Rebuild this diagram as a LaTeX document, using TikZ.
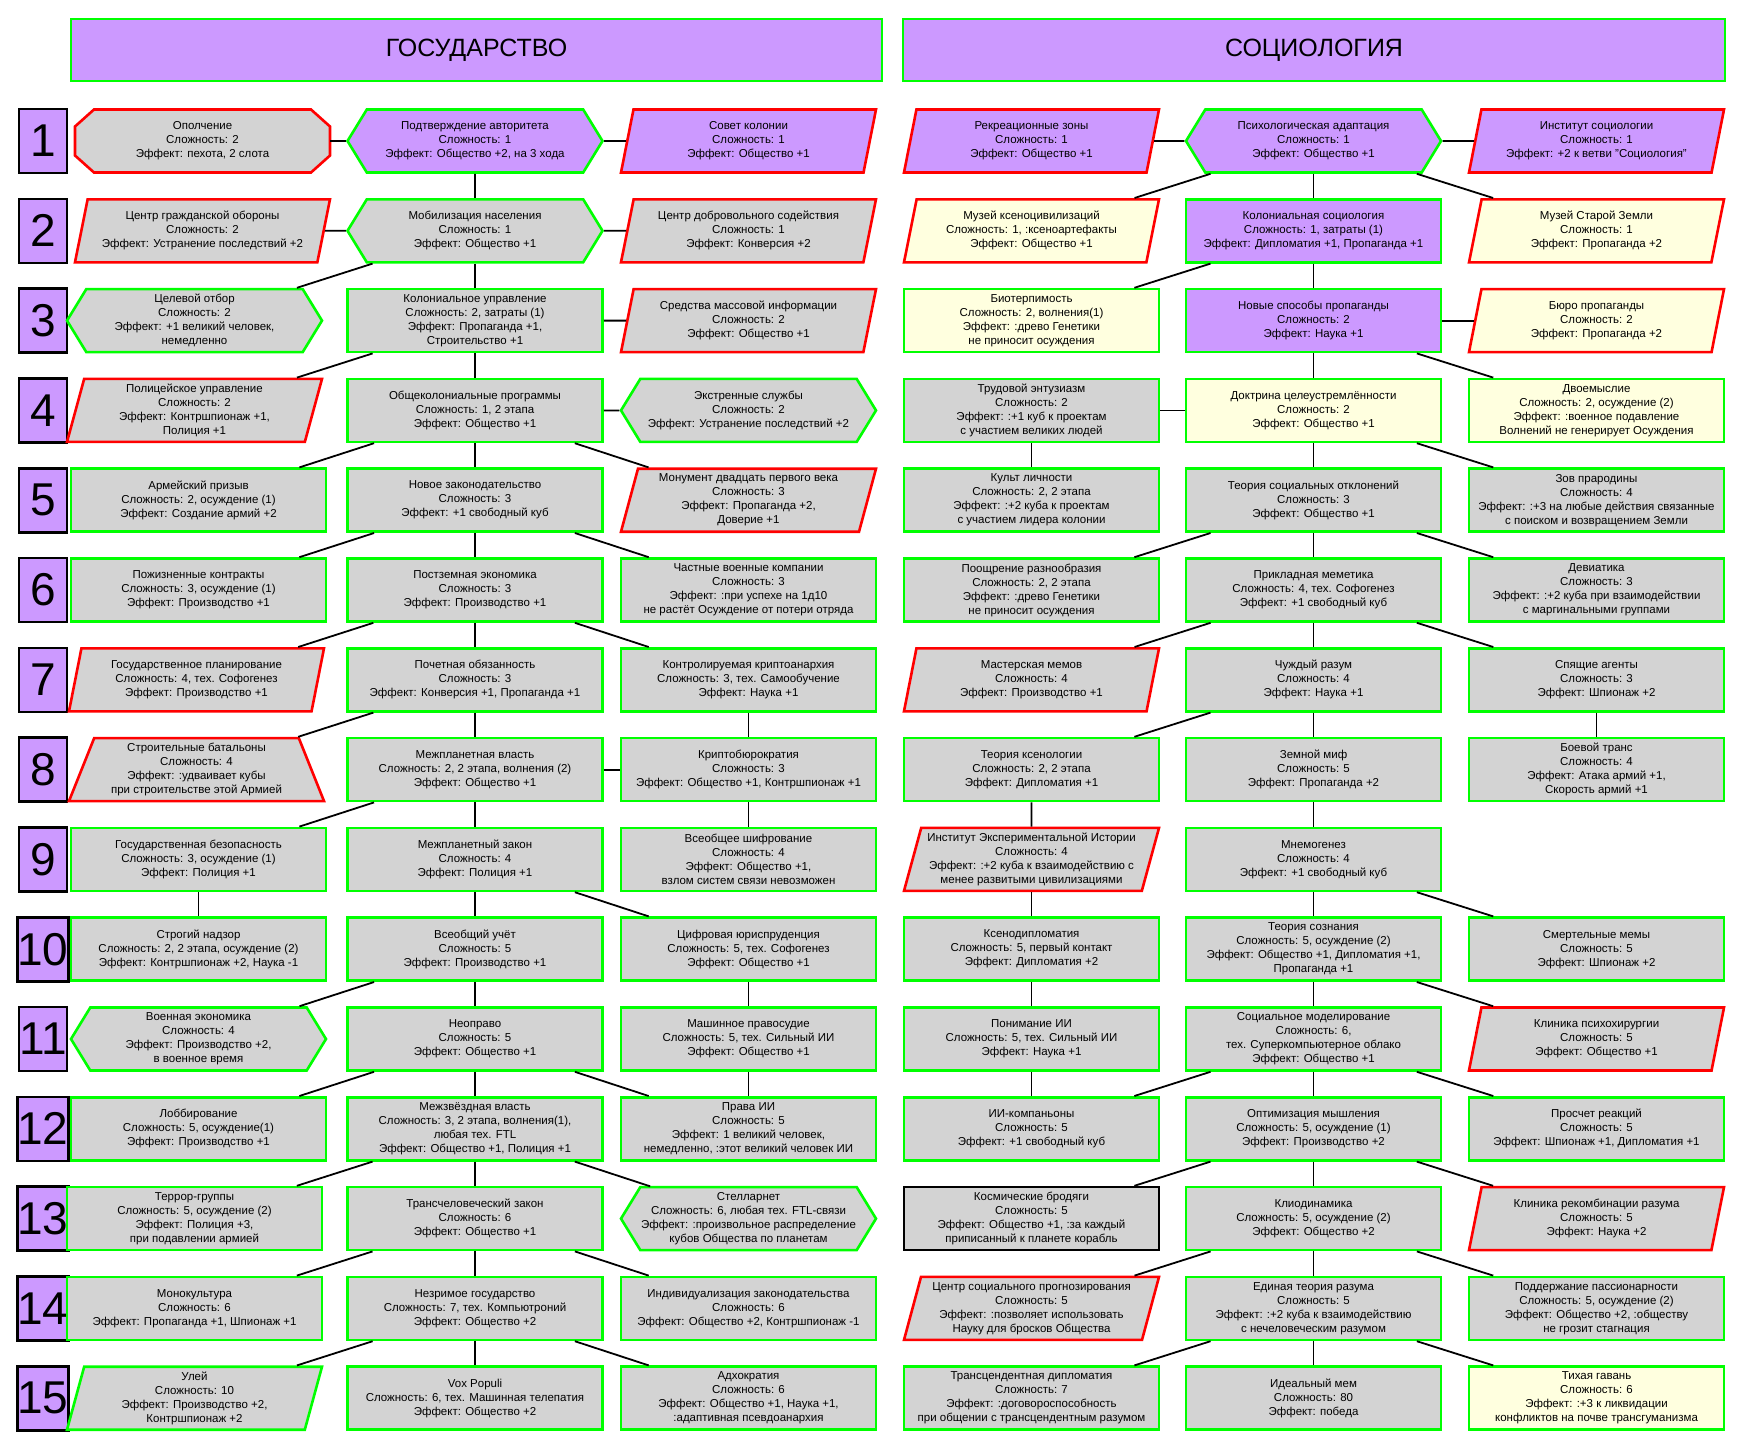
\documentclass[tikz,border=0pt]{standalone}
\usepackage{fontspec}
\setmainfont{Liberation Sans}
\usetikzlibrary{shapes.geometric,shapes.symbols,backgrounds}
\definecolor{lilac}{HTML}{CC99FF}
\definecolor{cellgrey}{HTML}{D3D3D3}
\definecolor{pale}{HTML}{FFFFDF}
\definecolor{okgreen}{HTML}{00FF00}
\definecolor{badred}{HTML}{FF0000}
\newcommand{\cellfont}{\fontsize{11.5pt}{14pt}\selectfont}
\newcommand{\numfont}{\fontsize{46pt}{46pt}\selectfont}
\newcommand{\headfont}{\fontsize{25pt}{25pt}\selectfont}

\tikzset{
  cell/.style={minimum width=255pt, minimum height=63pt, inner sep=0pt, align=center, font=\cellfont, line width=2.6pt},
  rect/.style={cell, rectangle},
  hexa/.style={cell, signal, signal to=west and east, signal pointer angle=117},
  octa/.style={cell, rectangle, outer sep=0pt},
  para/.style={cell, trapezium, trapezium left angle=72, trapezium right angle=108, trapezium stretches body},
  trap/.style={cell, trapezium, trapezium left angle=64.5, trapezium right angle=64.5, trapezium stretches body},
  greyfill/.style={fill=cellgrey}, lilacfill/.style={fill=lilac}, palefill/.style={fill=pale},
  okline/.style={draw=okgreen}, badline/.style={draw=badred}, darkline/.style={draw=black},
  numbox/.style={draw=black, fill=lilac, line width=2.6pt, minimum width=48pt, minimum height=64pt, inner sep=0pt, font=\numfont},
  headbox/.style={draw=okgreen, fill=lilac, line width=2.6pt, minimum height=62pt, inner sep=0pt, font=\headfont},
  link/.style={line width=1.8pt, draw=black}
}

\begin{document}
\begin{tikzpicture}[x=1pt, y=-1pt]
\useasboundingbox (0,0) rectangle (1749,1444);

% grid of cell centres and the row numbers
\foreach \r in {1,...,15}{
  \pgfmathsetmacro{\yy}{141+89.8*(\r-1)}
  \foreach \c/\xx in {A/198.5,B/475,C/748.5,D/1031.5,E/1313.5,F/1596.5}
    \coordinate (p\c\r) at (\xx,\yy);
  \node[numbox] (n\r) at (43,\yy) {\r};
}

\node[headbox, minimum width=811pt] (hstate) at (476.5,50) {ГОСУДАРСТВО};
\node[headbox, minimum width=822pt] (hsocio) at (1314,50) {СОЦИОЛОГИЯ};

% ГОСУДАРСТВО
\node[octa] (A1) at ([xshift=4pt]pA1) {Ополчение\\Сложность: 2\\Эффект: пехота, 2 слота};
\begin{scope}[on background layer]
  \draw[badline, greyfill, line width=2.6pt]
    ([xshift=19pt]A1.north west) -- ([xshift=-19pt]A1.north east) -- ([yshift=-17pt]A1.north east)
    -- ([yshift=17pt]A1.south east) -- ([xshift=-19pt]A1.south east) -- ([xshift=19pt]A1.south west)
    -- ([yshift=17pt]A1.south west) -- ([yshift=-17pt]A1.north west) -- cycle;
\end{scope}
\node[hexa,lilacfill,okline] (B1) at (pB1) {Подтверждение авторитета\\Сложность: 1\\Эффект: Общество +2, на 3 хода};
\node[para,lilacfill,badline] (C1) at (pC1) {Совет колонии\\Сложность: 1\\Эффект: Общество +1};

\node[para,greyfill,badline] (A2) at ([xshift=4pt]pA2) {Центр гражданской обороны\\Сложность: 2\\Эффект: Устранение последствий +2};
\node[hexa,greyfill,okline] (B2) at (pB2) {Мобилизация населения\\Сложность: 1\\Эффект: Общество +1};
\node[para,greyfill,badline] (C2) at (pC2) {Центр добровольного содействия\\Сложность: 1\\Эффект: Конверсия +2};

\node[hexa,greyfill,okline] (A3) at ([xshift=-4pt]pA3) {Целевой отбор\\Сложность: 2\\Эффект: +1 великий человек,\\немедленно};
\node[rect,greyfill,okline] (B3) at (pB3) {Колониальное управление\\Сложность: 2, затраты (1)\\Эффект: Пропаганда +1,\\Строительство +1};
\node[para,greyfill,badline] (C3) at (pC3) {Средства массовой информации\\Сложность: 2\\Эффект: Общество +1};

\node[para,greyfill,badline] (A4) at ([xshift=-4pt]pA4) {Полицейское управление\\Сложность: 2\\Эффект: Контршпионаж +1,\\Полиция +1};
\node[rect,greyfill,okline] (B4) at (pB4) {Общеколониальные программы\\Сложность: 1, 2 этапа\\Эффект: Общество +1};
\node[hexa,greyfill,okline] (C4) at (pC4) {Экстренные службы\\Сложность: 2\\Эффект: Устранение последствий +2};

\node[rect,greyfill,okline] (A5) at (pA5) {Армейский призыв\\Сложность: 2, осуждение (1)\\Эффект: Создание армий +2};
\node[rect,greyfill,okline] (B5) at (pB5) {Новое законодательство\\Сложность: 3\\Эффект: +1 свободный куб};
\node[para,greyfill,badline] (C5) at (pC5) {Монумент двадцать первого века\\Сложность: 3\\Эффект: Пропаганда +2,\\Доверие +1};

\node[rect,greyfill,okline] (A6) at (pA6) {Пожизненные контракты\\Сложность: 3, осуждение (1)\\Эффект: Производство +1};
\node[rect,greyfill,okline] (B6) at (pB6) {Постземная экономика\\Сложность: 3\\Эффект: Производство +1};
\node[rect,greyfill,okline] (C6) at (pC6) {Частные военные компании\\Сложность: 3\\Эффект: :при успехе на 1д10\\не растёт Осуждение от потери отряда};

\node[para,greyfill,badline] (A7) at ([xshift=-2pt]pA7) {Государственное планирование\\Сложность: 4, тех. Софогенез\\Эффект: Производство +1};
\node[rect,greyfill,okline] (B7) at (pB7) {Почетная обязанность\\Сложность: 3\\Эффект: Конверсия +1, Пропаганда +1};
\node[rect,greyfill,okline] (C7) at (pC7) {Контролируемая криптоанархия\\Сложность: 3, тех. Самообучение\\Эффект: Наука +1};

\node[trap,greyfill,badline] (A8) at ([xshift=-2pt]pA8) {Строительные батальоны\\Сложность: 4\\Эффект: :удваивает кубы\\при строительстве этой Армией};
\node[rect,greyfill,okline] (B8) at (pB8) {Межпланетная власть\\Сложность: 2, 2 этапа, волнения (2)\\Эффект: Общество +1};
\node[rect,greyfill,okline] (C8) at (pC8) {Криптобюрократия\\Сложность: 3\\Эффект: Общество +1, Контршпионаж +1};

\node[rect,greyfill,okline] (A9) at (pA9) {Государственная безопасность\\Сложность: 3, осуждение (1)\\Эффект: Полиция +1};
\node[rect,greyfill,okline] (B9) at (pB9) {Межпланетный закон\\Сложность: 4\\Эффект: Полиция +1};
\node[rect,greyfill,okline] (C9) at (pC9) {Всеобщее шифрование\\Сложность: 4\\Эффект: Общество +1,\\взлом систем связи невозможен};

\node[rect,greyfill,okline] (A10) at (pA10) {Строгий надзор\\Сложность: 2, 2 этапа, осуждение (2)\\Эффект: Контршпионаж +2, Наука -1};
\node[rect,greyfill,okline] (B10) at (pB10) {Всеобщий учёт\\Сложность: 5\\Эффект: Производство +1};
\node[rect,greyfill,okline] (C10) at (pC10) {Цифровая юриспруденция\\Сложность: 5, тех. Софогенез\\Эффект: Общество +1};

\node[hexa,greyfill,okline] (A11) at (pA11) {Военная экономика\\Сложность: 4\\Эффект: Производство +2,\\в военное время};
\node[rect,greyfill,okline] (B11) at (pB11) {Неоправо\\Сложность: 5\\Эффект: Общество +1};
\node[rect,greyfill,okline] (C11) at (pC11) {Машинное правосудие\\Сложность: 5, тех. Сильный ИИ\\Эффект: Общество +1};

\node[rect,greyfill,okline] (A12) at (pA12) {Лоббирование\\Сложность: 5, осуждение(1)\\Эффект: Производство +1};
\node[rect,greyfill,okline] (B12) at (pB12) {Межзвёздная власть\\Сложность: 3, 2 этапа, волнения(1),\\любая тех. FTL\\Эффект: Общество +1, Полиция +1};
\node[rect,greyfill,okline] (C12) at (pC12) {Права ИИ\\Сложность: 5\\Эффект: 1 великий человек,\\немедленно, :этот великий человек ИИ};

\node[rect,greyfill,okline] (A13) at ([xshift=-4pt]pA13) {Террор-группы\\Сложность: 5, осуждение (2)\\Эффект: Полиция +3,\\при подавлении армией};
\node[rect,greyfill,okline] (B13) at (pB13) {Трансчеловеческий закон\\Сложность: 6\\Эффект: Общество +1};
\node[hexa,greyfill,okline] (C13) at (pC13) {Стелларнет\\Сложность: 6, любая тех. FTL-связи\\Эффект: :произвольное распределение\\кубов Общества по планетам};

\node[rect,greyfill,okline] (A14) at ([xshift=-4pt]pA14) {Монокультура\\Сложность: 6\\Эффект: Пропаганда +1, Шпионаж +1};
\node[rect,greyfill,okline] (B14) at (pB14) {Незримое государство\\Сложность: 7, тех. Компьютроний\\Эффект: Общество +2};
\node[rect,greyfill,okline] (C14) at (pC14) {Индивидуализация законодательства\\Сложность: 6\\Эффект: Общество +2, Контршпионаж -1};

\node[para,greyfill,okline] (A15) at ([xshift=-4pt]pA15) {Улей\\Сложность: 10\\Эффект: Производство +2,\\Контршпионаж +2};
\node[rect,greyfill,okline] (B15) at (pB15) {Vox Populi\\Сложность: 6, тех. Машинная телепатия\\Эффект: Общество +2};
\node[rect,greyfill,okline] (C15) at (pC15) {Адхократия\\Сложность: 6\\Эффект: Общество +1, Наука +1,\\:адаптивная псевдоанархия};

% СОЦИОЛОГИЯ
\node[para,lilacfill,badline] (D1) at (pD1) {Рекреационные зоны\\Сложность: 1\\Эффект: Общество +1};
\node[hexa,lilacfill,okline] (E1) at (pE1) {Психологическая адаптация\\Сложность: 1\\Эффект: Общество +1};
\node[para,lilacfill,badline] (F1) at (pF1) {Институт социологии\\Сложность: 1\\Эффект: +2 к ветви "Социология"};

\node[para,palefill,badline] (D2) at (pD2) {Музей ксеноцивилизаций\\Сложность: 1, :ксеноартефакты\\Эффект: Общество +1};
\node[rect,lilacfill,okline] (E2) at (pE2) {Колониальная социология\\Сложность: 1, затраты (1)\\Эффект: Дипломатия +1, Пропаганда +1};
\node[para,palefill,badline] (F2) at (pF2) {Музей Старой Земли\\Сложность: 1\\Эффект: Пропаганда +2};

\node[rect,palefill,okline] (D3) at (pD3) {Биотерпимость\\Сложность: 2, волнения(1)\\Эффект: :древо Генетики\\не приносит осуждения};
\node[rect,lilacfill,okline] (E3) at (pE3) {Новые способы пропаганды\\Сложность: 2\\Эффект: Наука +1};
\node[para,palefill,badline] (F3) at (pF3) {Бюро пропаганды\\Сложность: 2\\Эффект: Пропаганда +2};

\node[rect,greyfill,okline] (D4) at (pD4) {Трудовой энтузиазм\\Сложность: 2\\Эффект: :+1 куб к проектам\\с участием великих людей};
\node[rect,palefill,okline] (E4) at (pE4) {Доктрина целеустремлённости\\Сложность: 2\\Эффект: Общество +1};
\node[rect,palefill,okline] (F4) at (pF4) {Двоемыслие\\Сложность: 2, осуждение (2)\\Эффект: :военное подавление\\Волнений не генерирует Осуждения};

\node[rect,greyfill,okline] (D5) at (pD5) {Культ личности\\Сложность: 2, 2 этапа\\Эффект: :+2 куба к проектам\\с участием лидера колонии};
\node[rect,greyfill,okline] (E5) at (pE5) {Теория социальных отклонений\\Сложность: 3\\Эффект: Общество +1};
\node[rect,greyfill,okline] (F5) at (pF5) {Зов прародины\\Сложность: 4\\Эффект: :+3 на любые действия связанные\\с поиском и возвращением Земли};

\node[rect,greyfill,okline] (D6) at (pD6) {Поощрение разнообразия\\Сложность: 2, 2 этапа\\Эффект: :древо Генетики\\не приносит осуждения};
\node[rect,greyfill,okline] (E6) at (pE6) {Прикладная меметика\\Сложность: 4, тех. Софогенез\\Эффект: +1 свободный куб};
\node[rect,greyfill,okline] (F6) at (pF6) {Девиатика\\Сложность: 3\\Эффект: :+2 куба при взаимодействии\\с маргинальными группами};

\node[para,greyfill,badline] (D7) at (pD7) {Мастерская мемов\\Сложность: 4\\Эффект: Производство +1};
\node[rect,greyfill,okline] (E7) at (pE7) {Чуждый разум\\Сложность: 4\\Эффект: Наука +1};
\node[rect,greyfill,okline] (F7) at (pF7) {Спящие агенты\\Сложность: 3\\Эффект: Шпионаж +2};

\node[rect,greyfill,okline] (D8) at (pD8) {Теория ксенологии\\Сложность: 2, 2 этапа\\Эффект: Дипломатия +1};
\node[rect,greyfill,okline] (E8) at (pE8) {Земной миф\\Сложность: 5\\Эффект: Пропаганда +2};
\node[rect,greyfill,okline] (F8) at (pF8) {Боевой транс\\Сложность: 4\\Эффект: Атака армий +1,\\Скорость армий +1};

\node[para,greyfill,badline] (D9) at (pD9) {Институт Экспериментальной Истории\\Сложность: 4\\Эффект: :+2 куба к взаимодействию с\\менее развитыми цивилизациями};
\node[rect,greyfill,okline] (E9) at (pE9) {Мнемогенез\\Сложность: 4\\Эффект: +1 свободный куб};

\node[rect,greyfill,okline] (D10) at (pD10) {Ксенодипломатия\\Сложность: 5, первый контакт\\Эффект: Дипломатия +2};
\node[rect,greyfill,okline] (E10) at (pE10) {Теория сознания\\Сложность: 5, осуждение (2)\\Эффект: Общество +1, Дипломатия +1,\\Пропаганда +1};
\node[rect,greyfill,okline] (F10) at (pF10) {Смертельные мемы\\Сложность: 5\\Эффект: Шпионаж +2};

\node[rect,greyfill,okline] (D11) at (pD11) {Понимание ИИ\\Сложность: 5, тех. Сильный ИИ\\Эффект: Наука +1};
\node[rect,greyfill,okline] (E11) at (pE11) {Социальное моделирование\\Сложность: 6,\\тех. Суперкомпьютерное облако\\Эффект: Общество +1};
\node[para,greyfill,badline] (F11) at (pF11) {Клиника психохирургии\\Сложность: 5\\Эффект: Общество +1};

\node[rect,greyfill,okline] (D12) at (pD12) {ИИ-компаньоны\\Сложность: 5\\Эффект: +1 свободный куб};
\node[rect,greyfill,okline] (E12) at (pE12) {Оптимизация мышления\\Сложность: 5, осуждение (1)\\Эффект: Производство +2};
\node[rect,greyfill,okline] (F12) at (pF12) {Просчет реакций\\Сложность: 5\\Эффект: Шпионаж +1, Дипломатия +1};

\node[rect,greyfill,darkline] (D13) at (pD13) {Космические бродяги\\Сложность: 5\\Эффект: Общество +1, :за каждый\\приписанный к планете корабль};
\node[rect,greyfill,okline] (E13) at (pE13) {Клиодинамика\\Сложность: 5, осуждение (2)\\Эффект: Общество +2};
\node[para,greyfill,badline] (F13) at (pF13) {Клиника рекомбинации разума\\Сложность: 5\\Эффект: Наука +2};

\node[para,greyfill,badline] (D14) at (pD14) {Центр социального прогнозирования\\Сложность: 5\\Эффект: :позволяет использовать\\Науку для бросков Общества};
\node[rect,greyfill,okline] (E14) at (pE14) {Единая теория разума\\Сложность: 5\\Эффект: :+2 куба к взаимодействию\\с нечеловеческим разумом};
\node[rect,greyfill,okline] (F14) at (pF14) {Поддержание пассионарности\\Сложность: 5, осуждение (2)\\Эффект: Общество +2, :обществу\\не грозит стагнация};

\node[rect,greyfill,okline] (D15) at (pD15) {Трансцендентная дипломатия\\Сложность: 7\\Эффект: :договороспособность\\при общении с трансцендентным разумом};
\node[rect,greyfill,okline] (E15) at (pE15) {Идеальный мем\\Сложность: 80\\Эффект: победа};
\node[rect,palefill,okline] (F15) at (pF15) {Тихая гавань\\Сложность: 6\\Эффект: :+3 к ликвидации\\конфликтов на почве трансгуманизма};

% links
\path[link]
  (B1) edge (A1) edge (C1) edge (B2)
  (B2) edge (A2) edge (C2) edge (A3) edge (B3)
  (B3) edge (C3) edge (A4) edge (B4)
  (B4) edge (C4) edge (A5) edge (C5) edge (B5)
  (B5) edge (A6) edge (C6) edge (B6)
  (B6) edge (A7) edge (C7) edge (B7)
  (B7) edge (A8) edge (B8)
  (C7) edge (C8)
  (B8) edge (C8) edge (A9) edge (B9)
  (C8) edge (C9)
  (A9) edge (A10)
  (B9) edge (B10) edge (C10)
  (B10) edge (A11) edge (B11)
  (C10) edge (C11)
  (B11) edge (A12) edge (C12) edge (B12)
  (C11) edge (C12)
  (B12) edge (A13) edge (C13) edge (B13)
  (B13) edge (A14) edge (C14) edge (B14)
  (B14) edge (A15) edge (C15) edge (B15);
\path[link]
  (E1) edge (D1) edge (F1) edge (D2) edge (E2) edge (F2)
  (E2) edge (D3) edge (E3)
  (E3) edge (F3) edge (E4) edge (F4)
  (E4) edge (D4) edge (E5) edge (F5)
  (D4) edge (D5)
  (E5) edge (D6) edge (E6) edge (F6)
  (E6) edge (D7) edge (E7) edge (F7)
  (E7) edge (D8) edge (E8)
  (F7) edge (F8)
  (D8) edge (D9)
  (E8) edge (E9)
  (D9) edge (D10)
  (E9) edge (E10) edge (F10)
  (D10) edge (D11)
  (E10) edge (E11) edge (F11)
  (D11) edge (D12)
  (E11) edge (D12) edge (E12) edge (F12)
  (E12) edge (D13) edge (E13) edge (F13)
  (E13) edge (D14) edge (E14) edge (F14)
  (E14) edge (D15) edge (E15) edge (F15);
\end{tikzpicture}
\end{document}
